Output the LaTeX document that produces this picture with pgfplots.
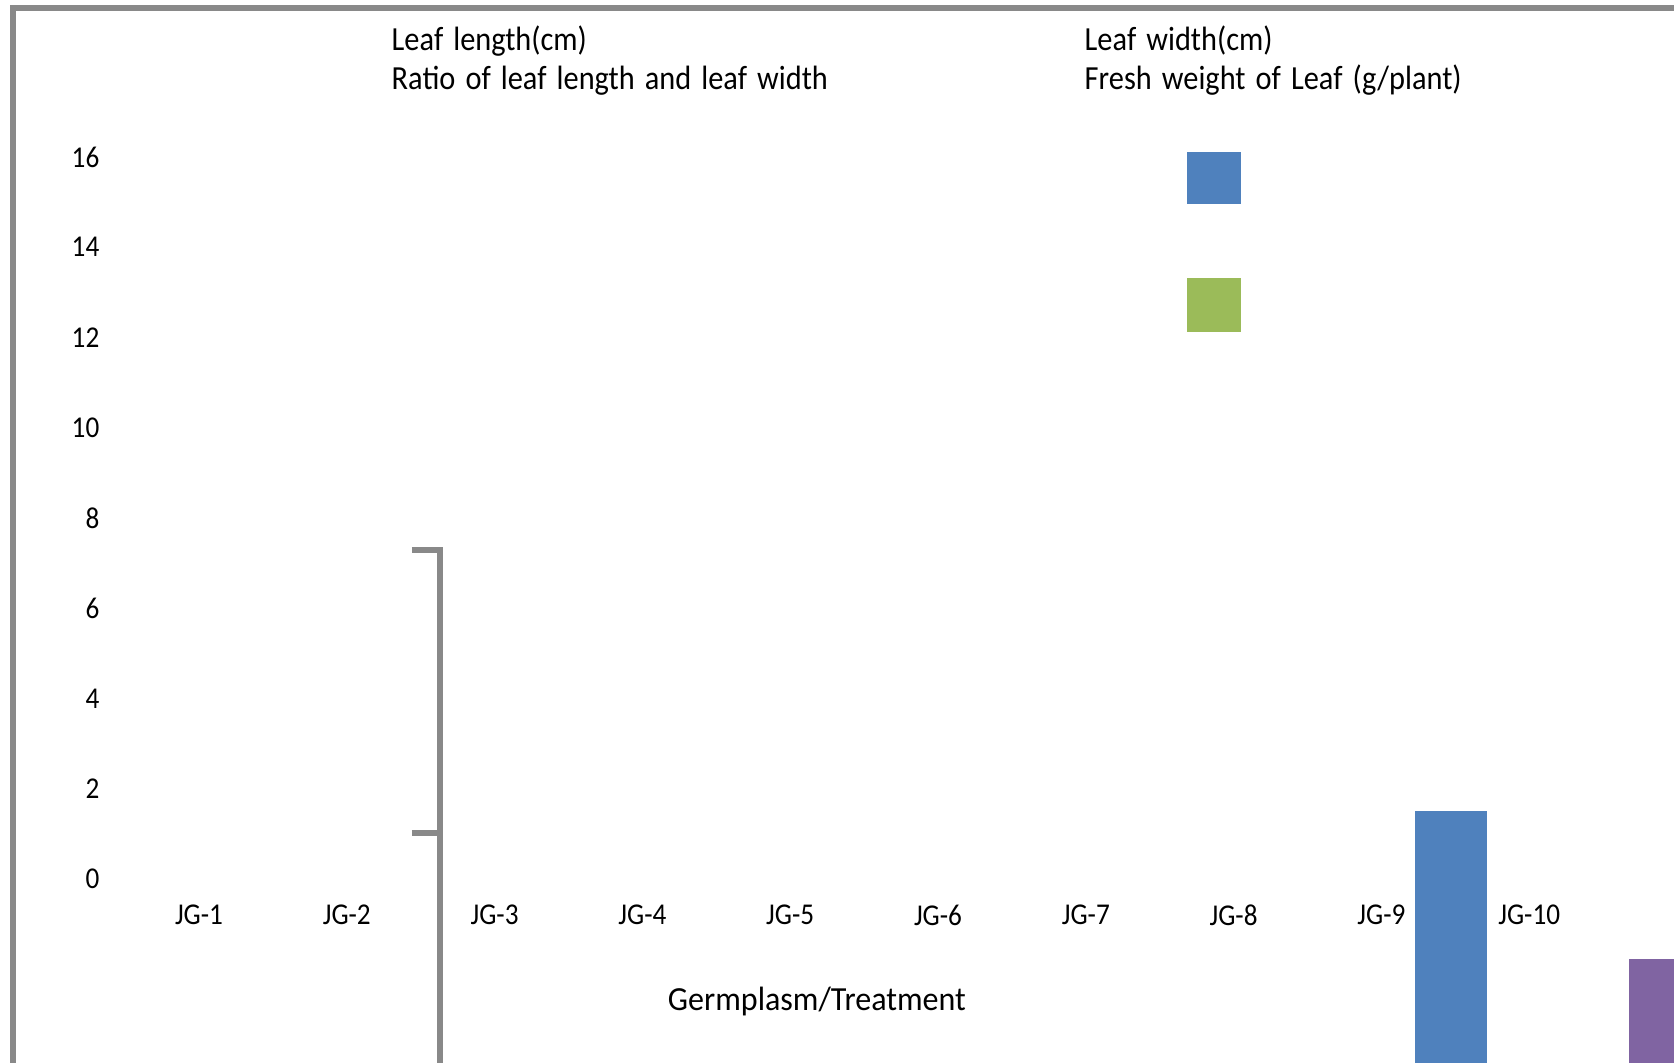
\documentclass[border=0pt]{standalone}
\usepackage{fontspec}
\setmainfont{Carlito}
\usepackage{graphicx}
\usepackage{pgfplots}
\pgfplotsset{compat=1.18}

\definecolor{xlblue}{HTML}{4F81BD}
\definecolor{xlgreen}{HTML}{9BBB59}
\definecolor{xlpurple}{HTML}{8064A2}
\definecolor{xlgray}{HTML}{898989}

% the source chart's text is slightly condensed
\newcommand{\sq}[1]{\scalebox{0.9}[1]{#1}}

\begin{document}
\begin{tikzpicture}
\begin{axis}[
    name=ax,
    scale only axis,
    width=167.4mm, height=106.3mm,
    xmin=-1.3464, xmax=9.9797,
    ymin=-4.0776, ymax=19.479,
    axis line style={draw=none},
    major tick length=0pt,
    /pgf/number format/assume math mode=true,
    xtick={0,...,9},
    xticklabels={\sq{JG-1},\sq{JG-2},\sq{JG-3},\sq{JG-4},\sq{JG-5},
                 \sq{JG-6},\sq{JG-7},\sq{JG-8},\sq{JG-9},\sq{JG-10}},
    ytick={0,2,...,16},
    yticklabel={\sq{\pgfmathprintnumber{\tick}}},
    tick label style={font=\fontsize{8.6}{10}\selectfont},
    xticklabel style={anchor=center, inner sep=0pt, yshift=14.8mm},
    yticklabel style={anchor=east, inner sep=0pt, xshift=10mm},
    xlabel={\scalebox{0.95}[1]{Germplasm/Treatment}},
    xlabel style={at={(axis description cs:0.488,0.0583)}, anchor=center,
                  font=\fontsize{9.6}{11}\selectfont},
    legend columns=2,
    legend cell align=left,
    legend style={at={(axis description cs:0.2336,0.9755)}, anchor=north west,
                  draw=none, fill=none, inner sep=0pt, row sep=0.7mm,
                  font=\fontsize{9.6}{11}\selectfont,
                  nodes={inner sep=0pt, text height=2.4mm, text depth=0.8mm},
                  /tikz/every even column/.append style={nodes={text width=69.3mm, align=left}}},
]
% chart area border
\draw[xlgray, line width=0.55mm] (axis cs:-1.2585,-6) -- (axis cs:-1.2585,19.302) -- (axis cs:11,19.302);

\addlegendimage{empty legend}\addlegendentry{\sq{Leaf length(cm)}}
\addlegendimage{empty legend}\addlegendentry{\sq{Leaf width(cm)}}
\addlegendimage{empty legend}\addlegendentry{\sq{Ratio of leaf length and leaf width}}
\addlegendimage{empty legend}\addlegendentry{\sq{Fresh weight of Leaf (g/plant)}}

% Leaf length bar
\addplot[fill=xlblue, draw=none, forget plot] coordinates
  {(8.227,-6) (8.714,-6) (8.714,1.507) (8.227,1.507)};
% Fresh weight bar
\addplot[fill=xlpurple, draw=none, forget plot] coordinates
  {(9.675,-6) (11,-6) (11,-1.773) (9.675,-1.773)};
% stray legend keys
\addplot[fill=xlblue, draw=none, forget plot] coordinates
  {(6.685,14.96) (7.050,14.96) (7.050,16.11) (6.685,16.11)};
\addplot[fill=xlgreen, draw=none, forget plot] coordinates
  {(6.685,12.12) (7.050,12.12) (7.050,13.32) (6.685,13.32)};
% error bracket
\addplot[xlgray, line width=0.55mm, forget plot] coordinates
  {(1.441,7.29) (1.631,7.29) (1.631,-6)};
\addplot[xlgray, line width=0.55mm, forget plot] coordinates
  {(1.441,1.02) (1.631,1.02)};
\end{axis}
\pgfresetboundingbox
\path (ax.south west) rectangle (ax.north east);
\end{tikzpicture}
\end{document}
